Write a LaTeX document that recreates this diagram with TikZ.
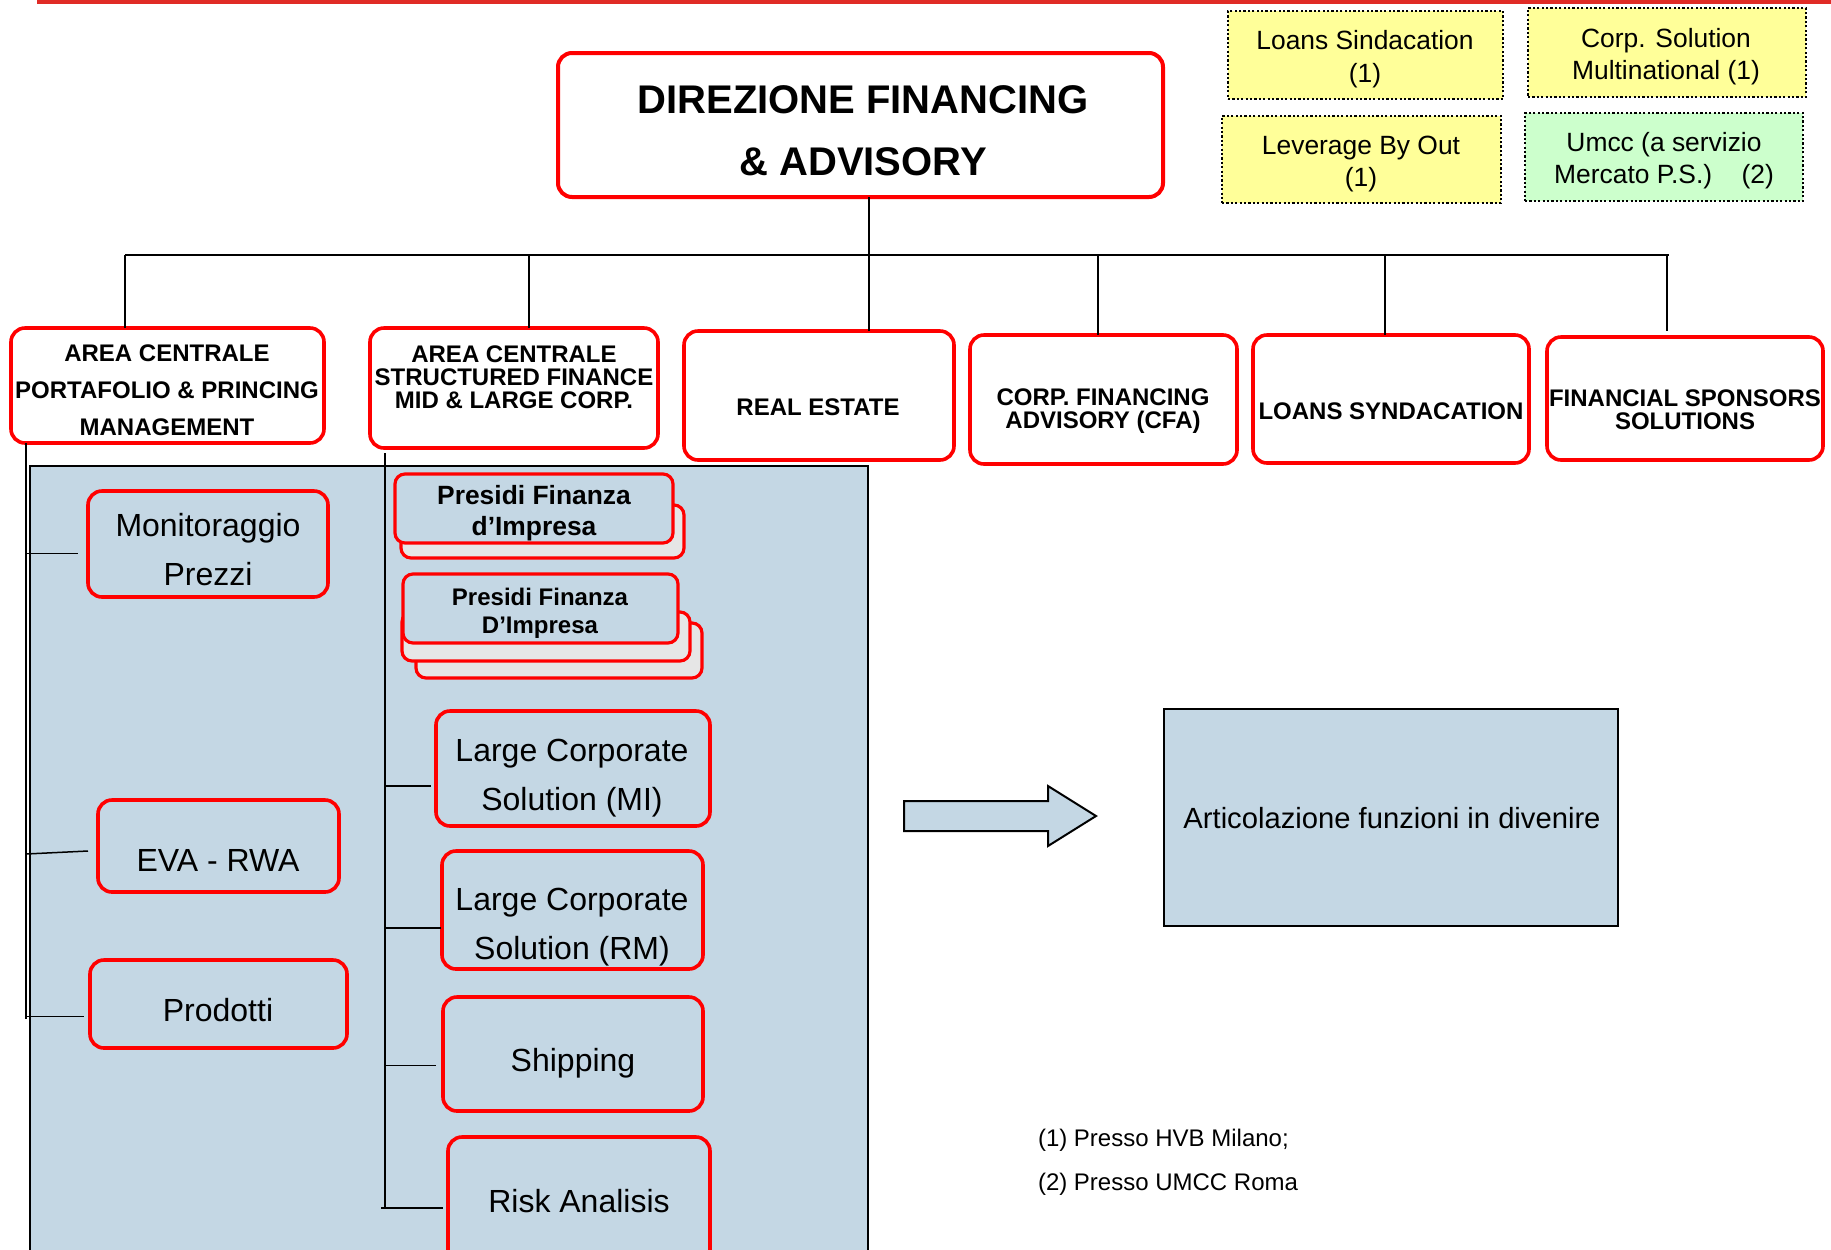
\documentclass[tikz,border=0pt]{standalone}
\usepackage{fontspec}
\setmainfont{Liberation Sans}
\usetikzlibrary{calc}
\definecolor{panelblue}{HTML}{C4D7E4}
\definecolor{shadowgray}{HTML}{E6E6E6}
\definecolor{noteyellow}{HTML}{FFFF99}
\definecolor{notegreen}{HTML}{CCFFCC}
\definecolor{ruleRed}{HTML}{E02B26}

% box node from its corner coordinates: name, style, x1, y1, x2, y2
\newcommand\boxnode[6]{%
  \pgfmathsetmacro\bxw{(#5-#3)*0.5}%
  \pgfmathsetmacro\bxh{(#6-#4)*0.5}%
  \node[#2, minimum width=\bxw pt, minimum height=\bxh pt] (#1) at ({(#3+#5)/2},{(#4+#6)/2}) {};}

\begin{document}
\begin{tikzpicture}[x=0.5pt, y=-0.5pt,
  unit/.style={inner sep=0pt, outer sep=0pt},
  redbox/.style={unit, draw=red, line width=1.8pt, rounded corners=7pt},
  topbox/.style={redbox, fill=white},
  subbox/.style={redbox, fill=panelblue},
  shadowbox/.style={redbox, fill=shadowgray, rounded corners=5pt, line width=1.6pt},
  frontbox/.style={redbox, fill=panelblue, rounded corners=5pt, line width=1.6pt},
  notebox/.style={unit, draw=black, line width=1.1pt, dash pattern=on 1.1pt off 1.1pt},
  plainbox/.style={unit, draw=black, line width=0.9pt, fill=panelblue},
  link/.style={draw=black, line width=0.75pt},
  buslink/.style={draw=black, line width=1.2pt},
  headtxt/.style={unit, align=center, font=\fontsize{20}{31}\selectfont\bfseries},
  areatxt/.style={unit, align=center, font=\fontsize{12}{#1}\selectfont\bfseries},
  areatxt/.default=18.5,
  unittxt/.style={unit, align=center, font=\fontsize{16}{24.5}\selectfont},
  notetxt/.style={unit, align=center, font=\fontsize{13.2}{16.3}\selectfont},
  presiditxt/.style={unit, align=center, font=\fontsize{13.2}{15.5}\selectfont\bfseries},
  presidismall/.style={unit, align=center, font=\fontsize{12}{14}\selectfont\bfseries},
  foottxt/.style={unit, anchor=west, font=\fontsize{12}{14}\selectfont}
]
\useasboundingbox (0,0) rectangle (1831,1249);
\clip (0,0) rectangle (1831,1249);

% red rule along the top edge
\draw[ruleRed, line width=2pt] (37,2) -- (1831,2);

% light blue panel behind the two sub-structures
\boxnode{panel}{plainbox, line width=1pt}{30}{466}{868}{1320}

% head of the direction
\boxnode{dir}{topbox, line width=2pt}{558}{53}{1163}{197}
\node[headtxt] (tdir) at (863,131) {DIREZIONE FINANCING\\\& ADVISORY};

% side notes
\boxnode{nLoans}{notebox, fill=noteyellow}{1228}{11}{1503}{99}
\node[notetxt] (tLoans) at (1365,59) {Loans Sindacation\\(1)};
\boxnode{nCorp}{notebox, fill=noteyellow}{1528}{8}{1806}{97}
\node[notetxt] (tCorp) at (1666,56.5) {Corp. Solution\\Multinational (1)};
\boxnode{nLbo}{notebox, fill=noteyellow}{1222}{116}{1501}{203}
\node[notetxt] (tLbo) at (1361,164) {Leverage By Out\\(1)};
\boxnode{nUmcc}{notebox, fill=notegreen}{1525}{113}{1803}{201}
\node[notetxt] (tUmcc) at (1664,160.5) {Umcc (a servizio\\Mercato P.S.)~~~~(2)};

% second level
\boxnode{a1}{topbox}{11}{328}{324}{443}
\node[areatxt] (ta1) at (167,390.5) {AREA CENTRALE\\PORTAFOLIO \& PRINCING\\MANAGEMENT};
\boxnode{a2}{topbox}{370}{328}{658}{448}
\node[areatxt=11.5] (ta2) at (514,377) {AREA CENTRALE\\STRUCTURED FINANCE\\MID \& LARGE CORP.};
\boxnode{re}{topbox}{684}{331}{954}{460}
\node[areatxt] (tre) at (818,407) {REAL ESTATE};
\boxnode{cfa}{topbox}{970}{335}{1237}{464}
\node[areatxt=11.5] (tcfa) at (1103,411.5) {CORP. FINANCING\\ADVISORY (CFA)};
\boxnode{ls}{topbox}{1253}{335}{1529}{463}
\node[areatxt] (tls) at (1391,411) {LOANS SYNDACATION};
\boxnode{fss}{topbox}{1547}{337}{1823}{460}
\node[areatxt=11.5] (tfss) at (1685,410) {FINANCIAL SPONSORS\\SOLUTIONS};

% bus and drops
\coordinate (busL) at (125,255);
\coordinate (busR) at (1669,255);
\coordinate (d2) at (529,255);
\coordinate (d3) at (869,255);
\coordinate (d4) at (1098,255);
\coordinate (d5) at (1385,255);
\coordinate (d6) at (1667,255);
\draw[buslink] (busL) -- (busR);
\draw[link] (busL) -- (busL |- a1.north);
\draw[link] (d2) -- (d2 |- a2.north);
\draw[link] (dir.south -| d3) -- (d3 |- re.north);
\draw[link] (d4) -- (d4 |- cfa.north);
\draw[link] (d5) -- (d5 |- ls.north);
\draw[link] (d6) -- ([yshift=3pt]d6 |- fss.north);

% portfolio and pricing units
\boxnode{mon}{subbox}{88}{491}{328}{597}
\node[unittxt] (tmon) at (208,550) {Monitoraggio\\Prezzi};
\boxnode{eva}{subbox}{98}{800}{339}{892}
\node[unittxt] (teva) at (218,860) {EVA - RWA};
\boxnode{prod}{subbox}{90}{960}{347}{1048}
\node[unittxt] (tprod) at (218,1010) {Prodotti};

\coordinate (lv) at (26,1019);
\draw[link] (a1.south -| lv) -- (lv);
\draw[link] ([yshift=-4.75pt]mon.west -| lv) -- ([xshift=-5pt,yshift=-4.75pt]mon.west);
\draw[link] ([yshift=-4pt]eva.west -| lv) -- ([xshift=-5pt,yshift=-2.5pt]eva.west);
\draw[link] ([yshift=-6.25pt]prod.west -| lv) -- ([xshift=-3pt,yshift=-6.25pt]prod.west);

% structured finance units
\boxnode{pa2}{shadowbox}{401}{505}{684}{558}
\boxnode{pa1}{frontbox}{395}{474}{673}{543}
\node[presiditxt] (tpa) at (534,513) {Presidi Finanza\\d’Impresa};
\boxnode{pb3}{shadowbox}{416}{623}{702}{678}
\boxnode{pb2}{shadowbox}{402}{612}{690}{661}
\boxnode{pb1}{frontbox}{403}{574}{678}{643}
\node[presidismall] (tpb) at (540,613) {Presidi Finanza\\D’Impresa};

\boxnode{lcmi}{subbox}{436}{711}{710}{826}
\node[unittxt] (tlcmi) at (572,778.5) {Large Corporate\\Solution (MI)};
\boxnode{lcrm}{subbox}{442}{851}{703}{969}
\node[unittxt] (tlcrm) at (572,927) {Large Corporate\\Solution (RM)};
\boxnode{ship}{subbox}{443}{997}{703}{1111}
\node[unittxt] (tship) at (573,1063) {Shipping};
\boxnode{risk}{subbox}{448}{1137}{710}{1290}
\node[unittxt] (trisk) at (579,1201) {Risk Analisis};

\coordinate (mv) at (385,1208);
\draw[link, shorten <=2.5pt] (a2.south -| mv) -- (mv);
\draw[link] ([yshift=-8.75pt]lcmi.west -| mv) -- ([xshift=-2.5pt,yshift=-8.75pt]lcmi.west);
\draw[link] ([yshift=-9pt]lcrm.west -| mv) -- ([xshift=-0.5pt,yshift=-9pt]lcrm.west);
\draw[link] ([yshift=-5.75pt]ship.west -| mv) -- ([xshift=-3.5pt,yshift=-5.75pt]ship.west);
\draw[link] ([xshift=-2pt]mv) -- ([xshift=-2.5pt]mv -| risk.west);

% block arrow towards the evolving organisation
\draw[fill=panelblue, line width=1pt, line join=miter]
  (904,801) -- (1048,801) -- (1048,786) -- (1096,816) -- (1048,846) -- (1048,831) -- (904,831) -- cycle;

\boxnode{future}{plainbox}{1164}{709}{1618}{926}
\node[unit, font=\fontsize{14.6}{17}\selectfont] (tfuture) at (1392,818.5) {Articolazione funzioni in divenire};

% footnotes
\node[foottxt] (f1) at (1038,1140.5) {(1) Presso HVB Milano;};
\node[foottxt] (f2) at (1038,1184.5) {(2) Presso UMCC Roma};
\end{tikzpicture}
\end{document}
